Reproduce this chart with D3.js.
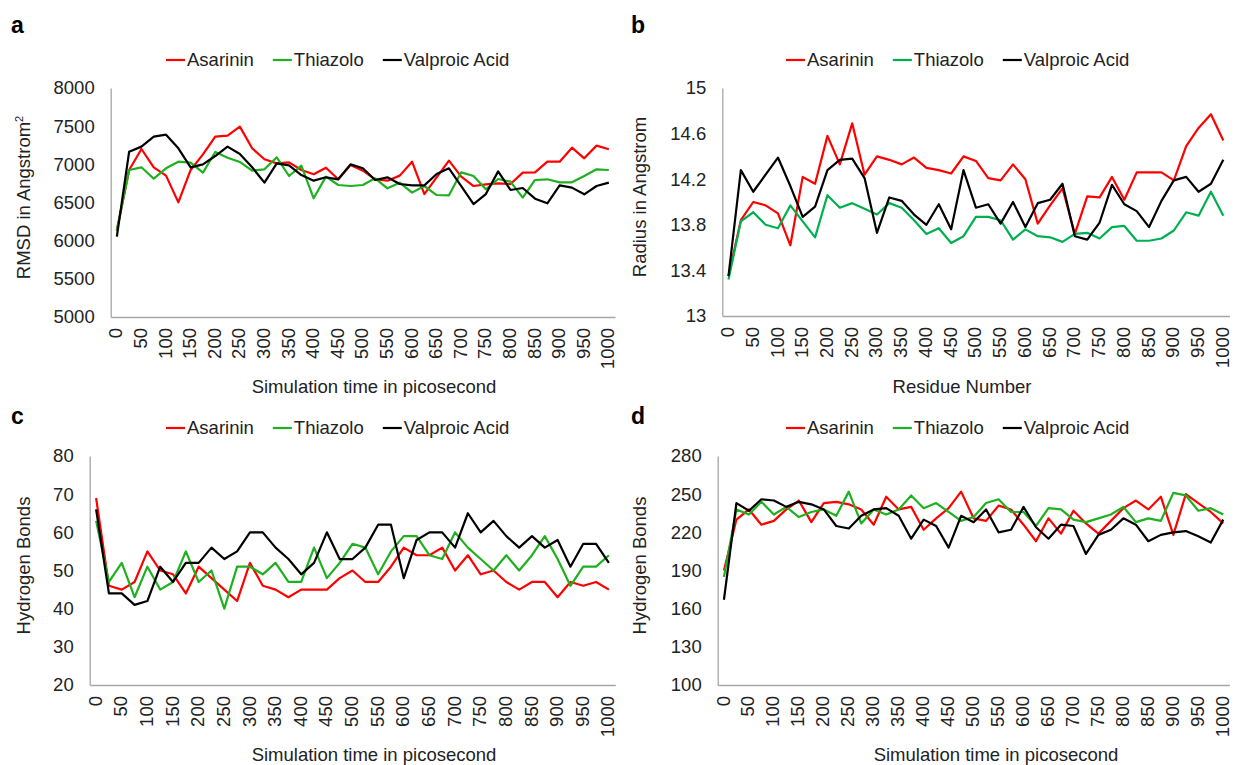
<!DOCTYPE html>
<html>
<head>
<meta charset="utf-8">
<script src="https://cdn.jsdelivr.net/npm/d3@7"></script>
<style>
  body { margin: 0; background: #fff; }
  text { font-family: "Liberation Sans", Arial, sans-serif; }
</style>
</head>
<body>
<div class="canvas"></div>
<script>
// categories on every x axis (simulation time / residue)
const timeCats = [0, 25, 50, 75, 100, 125, 150, 175, 200, 225, 250, 275, 300, 325, 350, 375, 400,
    425, 450, 475, 500, 525, 550, 575, 600, 625, 650, 675, 700, 725, 750, 775, 800, 825, 850, 875,
    900, 925, 950, 975, 1000];

const seriesNames = ['Asarinin', 'Thiazolo', 'Valproic Acid'];

// a - RMSD
const rmsdAsarinin = [6130, 6926, 7201, 6961, 6852, 6502, 6926, 7130, 7363, 7376, 7494, 7210, 7066, 7013,
    7026, 6926, 6869, 6956, 6804, 6991, 6917, 6804, 6786, 6852, 7035, 6611, 6830, 7048, 6839, 6716, 6738,
    6751, 6742, 6891, 6895, 7035, 7035, 7218, 7079, 7245, 7197];
const rmsdThiazolo = [6140, 6926, 6961, 6812, 6948, 7035, 7022, 6891, 7162, 7087, 7031, 6917, 6935, 7092,
    6847, 6983, 6555, 6839, 6729, 6716, 6729, 6817, 6686, 6760, 6629, 6716, 6598, 6594, 6895, 6847, 6673,
    6808, 6773, 6563, 6795, 6804, 6764, 6764, 6847, 6935, 6926];
const rmsdValproic = [6052, 7166, 7232, 7363, 7389, 7210, 6961, 7000, 7109, 7232, 7135, 6961, 6760, 7013,
    6987, 6860, 6786, 6830, 6804, 7000, 6948, 6795, 6830, 6742, 6725, 6725, 6873, 6948, 6716, 6480, 6611,
    6908, 6664, 6690, 6550, 6489, 6725, 6695, 6607, 6716, 6760];
const rmsdTicks = [5000, 5500, 6000, 6500, 7000, 7500, 8000];

// b - radius
const rgAsarinin = [13.35, 13.84, 14.00, 13.97, 13.90, 13.62, 14.22, 14.16, 14.58, 14.33, 14.69, 14.24,
    14.40, 14.37, 14.33, 14.39, 14.30, 14.28, 14.25, 14.40, 14.36, 14.21, 14.19, 14.33, 14.20, 13.81, 13.97,
    14.12, 13.72, 14.05, 14.04, 14.22, 14.02, 14.26, 14.26, 14.26, 14.19, 14.49, 14.65, 14.77, 14.54];
const rgThiazolo = [13.32, 13.83, 13.91, 13.80, 13.77, 13.97, 13.83, 13.69, 14.06, 13.95, 13.99, 13.94,
    13.89, 13.99, 13.95, 13.84, 13.72, 13.77, 13.64, 13.70, 13.87, 13.87, 13.84, 13.67, 13.76, 13.70, 13.69,
    13.65, 13.72, 13.73, 13.68, 13.78, 13.79, 13.66, 13.66, 13.68, 13.75, 13.91, 13.88, 14.09, 13.88];
const rgValproic = [13.35, 14.28, 14.09, 14.24, 14.39, 14.14, 13.87, 13.96, 14.28, 14.37, 14.38, 14.21,
    13.73, 14.04, 14.01, 13.89, 13.80, 13.98, 13.76, 14.28, 13.95, 13.98, 13.81, 14.00, 13.78, 13.99, 14.02,
    14.16, 13.70, 13.67, 13.82, 14.15, 13.98, 13.92, 13.78, 14.01, 14.19, 14.22, 14.09, 14.16, 14.37];
const rgTicks = [13, 13.4, 13.8, 14.2, 14.6, 15];

// c - hydrogen bonds
const hbAsarinin = [69, 46, 45, 47, 55, 50, 49, 44, 51, 48, 45, 42, 52, 46, 45, 43, 45, 45, 45, 48, 50,
    47, 47, 51, 56, 54, 54, 56, 50, 54, 49, 50, 47, 45, 47, 47, 43, 47, 46, 47, 45];
const hbThiazolo = [63, 47, 52, 43, 51, 45, 47, 55, 47, 50, 40, 51, 51, 49, 52, 47, 47, 56, 48, 52, 57,
    56, 49, 55, 59, 59, 54, 53, 60, 56, 53, 50, 54, 50, 54, 59, 53, 46, 51, 51, 54];
const hbValproic = [66, 44, 44, 41, 42, 51, 47, 52, 52, 56, 53, 55, 60, 60, 56, 53, 49, 52, 60, 53, 53,
    56, 62, 62, 48, 58, 60, 60, 56, 65, 60, 63, 59, 56, 59, 56, 58, 51, 57, 57, 52];
const hbTicks = [20, 30, 40, 50, 60, 70, 80];

// d - hydrogen bonds (second set)
const hbwAsarinin = [190, 230, 238, 226, 229, 238, 245, 228, 243, 244, 242, 238, 226, 248, 238, 240, 222,
    231, 239, 252, 231, 229, 241, 238, 226, 213, 231, 219, 237, 227, 219, 229, 239, 245, 238, 248, 218,
    250, 243, 236, 227];
const hbwThiazolo = [185, 238, 234, 244, 234, 240, 232, 236, 238, 233, 252, 227, 238, 234, 238, 249, 239,
    243, 236, 229, 232, 243, 246, 236, 236, 225, 239, 238, 230, 228, 231, 234, 240, 228, 231, 229, 251,
    249, 237, 239, 234];
const hbwValproic = [167, 243, 237, 246, 245, 240, 244, 242, 238, 225, 223, 233, 238, 239, 233, 215, 230,
    225, 208, 233, 228, 238, 220, 222, 240, 224, 215, 226, 225, 203, 218, 222, 231, 226, 213, 218, 220,
    221, 217, 212, 230];
const hbwTicks = [100, 130, 160, 190, 220, 250, 280];

const svg = d3.select('.canvas')
    .append('svg')
        .attr('width', 1234)
        .attr('height', 765);

const fontSize = 18.5;

const panels = [
    { letter: 'a', ox: 0, plot: {left: 110.7, right: 615, top: 88, bottom: 317},
      series: [rmsdAsarinin, rmsdThiazolo, rmsdValproic], ticks: rmsdTicks,
      yTitle: 'RMSD in Angstrom', sup: '2', xTitle: 'Simulation time in picosecond', xTitleX: 374,
      green: '#1fb01f', letterY: 33, legendY: 60, xTitleY: 393, yTitleX: 30 },
    { letter: 'b', ox: 620, plot: {left: 722.3, right: 1229.5, top: 88, bottom: 316},
      series: [rgAsarinin, rgThiazolo, rgValproic], ticks: rgTicks,
      yTitle: 'Radius in Angstrom', xTitle: 'Residue Number', xTitleX: 962,
      green: '#00b050', letterY: 33, legendY: 60, xTitleY: 393, yTitleX: 646 },
    { letter: 'c', ox: 0, plot: {left: 89.7, right: 615.3, top: 456, bottom: 685},
      series: [hbAsarinin, hbThiazolo, hbValproic], ticks: hbTicks,
      yTitle: 'Hydrogen Bonds', xTitle: 'Simulation time in picosecond', xTitleX: 374,
      green: '#1fb01f', letterY: 424, legendY: 428, xTitleY: 761, yTitleX: 30 },
    { letter: 'd', ox: 620, plot: {left: 717.7, right: 1229.5, top: 456, bottom: 685},
      series: [hbwAsarinin, hbwThiazolo, hbwValproic], ticks: hbwTicks,
      yTitle: 'Hydrogen Bonds', xTitle: 'Simulation time in picosecond', xTitleX: 996,
      green: '#1fb01f', letterY: 424, legendY: 428, xTitleY: 761, yTitleX: 646 }
];

panels.forEach(p => {
    const colors = ['#ff0000', p.green, '#000000'];
    const g = svg.append('g');

    // scales
    const x = d3.scaleBand()
        .domain(timeCats)
        .range([p.plot.left, p.plot.right])
        .padding(0);

    const y = d3.scaleLinear()
        .domain(d3.extent(p.ticks))
        .range([p.plot.bottom, p.plot.top]);

    // y axis
    const yAxis = g.append('g')
        .attr('transform', `translate(${p.plot.left},0)`)
        .call(d3.axisLeft(y).tickValues(p.ticks).tickSize(0).tickSizeOuter(0).tickPadding(16)
            .tickFormat(d => String(d)));
    yAxis.select('.domain').attr('stroke', '#a6a6a6').attr('stroke-width', 1.3);
    yAxis.selectAll('text')
        .attr('font-size', fontSize)
        .attr('fill', '#222')
        .style('font-family', '"Liberation Sans", Arial, sans-serif');

    // x axis, every other category labelled
    const xAxis = g.append('g')
        .attr('transform', `translate(0,${p.plot.bottom})`)
        .call(d3.axisBottom(x).tickValues(timeCats.filter(c => c % 50 === 0)).tickSize(0).tickSizeOuter(0));
    xAxis.select('.domain').attr('stroke', '#a6a6a6').attr('stroke-width', 1.3);
    xAxis.selectAll('text')
        .attr('font-size', fontSize)
        .attr('fill', '#222')
        .style('font-family', '"Liberation Sans", Arial, sans-serif')
        .attr('transform', 'rotate(-90)')
        .attr('text-anchor', 'end')
        .attr('x', -11)
        .attr('y', 0)
        .attr('dy', '0.3em');

    // lines
    const line = d3.line()
        .x((d, i) => x(timeCats[i]) + x.bandwidth() / 2)
        .y(d => y(d));

    g.selectAll('path.series')
        .data(p.series)
        .enter()
        .append('path')
            .attr('class', 'series')
            .attr('d', d => line(d))
            .attr('fill', 'none')
            .attr('stroke', (d, i) => colors[i])
            .attr('stroke-width', 2.2)
            .attr('stroke-linejoin', 'round');

    // panel letter
    g.append('text')
        .attr('x', p.ox + 11)
        .attr('y', p.letterY)
        .attr('font-size', 23)
        .attr('font-weight', 'bold')
        .text(p.letter);

    // legend
    let lx = p.ox + 166;
    seriesNames.forEach((name, i) => {
        g.append('line')
            .attr('x1', lx).attr('x2', lx + 19)
            .attr('y1', p.legendY).attr('y2', p.legendY)
            .attr('stroke', colors[i])
            .attr('stroke-width', 2.2);
        const t = g.append('text')
            .attr('x', lx + 21)
            .attr('y', p.legendY)
            .attr('dy', '0.35em')
            .attr('font-size', fontSize)
            .attr('fill', '#222')
            .text(name);
        lx += 21 + t.node().getComputedTextLength() + 19;
    });

    // axis titles
    g.append('text')
        .attr('x', p.xTitleX)
        .attr('y', p.xTitleY)
        .attr('text-anchor', 'middle')
        .attr('font-size', fontSize)
        .attr('fill', '#222')
        .text(p.xTitle);

    const yt = g.append('text')
        .attr('transform', `translate(${p.yTitleX},${(p.plot.top + p.plot.bottom) / 2 - 5}) rotate(-90)`)
        .attr('text-anchor', 'middle')
        .attr('font-size', fontSize)
        .attr('fill', '#222')
        .text(p.yTitle);
    if (p.sup) {
        yt.append('tspan')
            .attr('font-size', 11)
            .attr('dy', -7)
            .text(p.sup);
    }
});
</script>
</body>
</html>
